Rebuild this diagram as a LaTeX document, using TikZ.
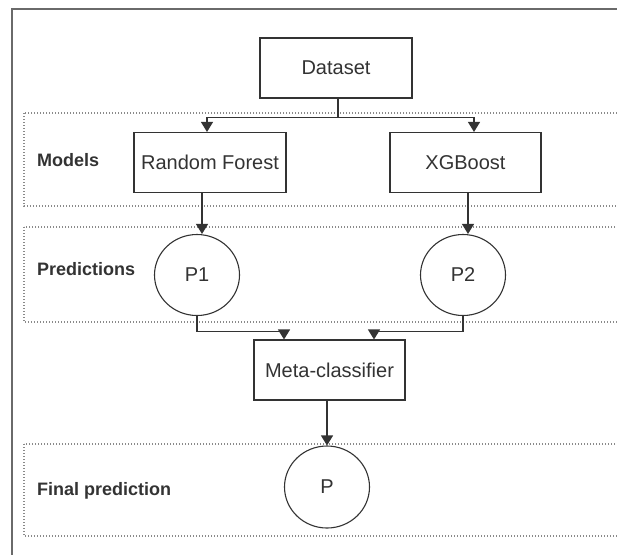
\documentclass[tikz,border=0pt]{standalone}
\usepackage{fontspec}
\setmainfont{Liberation Sans}
\usetikzlibrary{arrows.meta,shapes.geometric}
\definecolor{ink}{HTML}{333333}
\definecolor{dotc}{HTML}{8A8A8A}
\definecolor{framec}{HTML}{6A6A6A}
\tikzset{
  box/.style={draw=ink, line width=1.1pt, minimum width=152pt, minimum height=60pt, inner sep=0pt, text=ink, font=\fontsize{20}{24}\selectfont},
  circ/.style={draw=ink, line width=1.1pt, ellipse, minimum width=85pt, minimum height=81pt, inner sep=0pt, text=ink, font=\fontsize{20}{24}\selectfont},
  arr/.style={draw=ink, line width=1.1pt, -{Triangle[width=12pt,length=10pt]}},
  ln/.style={draw=ink, line width=1.1pt},
  group/.style={draw=dotc, line width=1.1pt, dash pattern=on 1.3pt off 1.7pt},
  lbl/.style={anchor=west, inner sep=0pt, text=ink, font=\bfseries\fontsize{18}{22}\selectfont},
}
\begin{document}
\begin{tikzpicture}[x=1pt,y=-1pt]
\useasboundingbox (0,0) rectangle (617,554);
\clip (0,0) rectangle (617,554);
\fill[white] (0,0) rectangle (617,554);
% outer frame (only left and top visible)
\draw[framec, line width=1.3pt] (12,560) -- (12,9) -- (625,9);
% dashed groups
\draw[group] (24,113) rectangle (640,206);
\draw[group] (24,227) rectangle (640,322);
\draw[group] (24,444) rectangle (640,536);
% labels
\node[lbl] (lm) at (37,160) {Models};
\node[lbl] (lp) at (37,269) {Predictions};
\node[lbl] (lf) at (37,491) {Final prediction};
% nodes
\node[box] (ds) at (336,68) {Dataset};
\node[box] (rf) at (210,162.5) {Random Forest};
\node[box, minimum width=151pt] (xgb) at (465.5,162.5) {XGBoost};
\node[circ] (p1) at (197,275) {P1};
\node[circ] (p2) at (463,275) {P2};
\node[box, minimum width=151pt] (meta) at (329.5,370) {Meta-classifier};
\node[circ, minimum height=82pt] (p) at (327,487) {P};
% connectors
\coordinate (j) at ([xshift=2]ds.south);
\draw[ln] (j) -- ++(0,19) coordinate (jb);
\draw[arr] (jb) -| ([xshift=-3]rf.north);
\draw[arr] (jb) -| ([xshift=8.5]xgb.north);
\draw[arr] ([xshift=-8]rf.south) -- ([xshift=-8]rf.south |- p1.north);
\draw[arr] ([xshift=2.5]xgb.south) -- ([xshift=2.5]xgb.south |- p2.north);
\draw[arr] (p1.south) -- ++(0,15) -| ([xshift=-45.5]meta.north);
\draw[arr] (p2.south) -- ++(0,15) -| ([xshift=44.5]meta.north);
\draw[arr] ([xshift=-2.5]meta.south) -- (p.north);
\end{tikzpicture}
\end{document}
